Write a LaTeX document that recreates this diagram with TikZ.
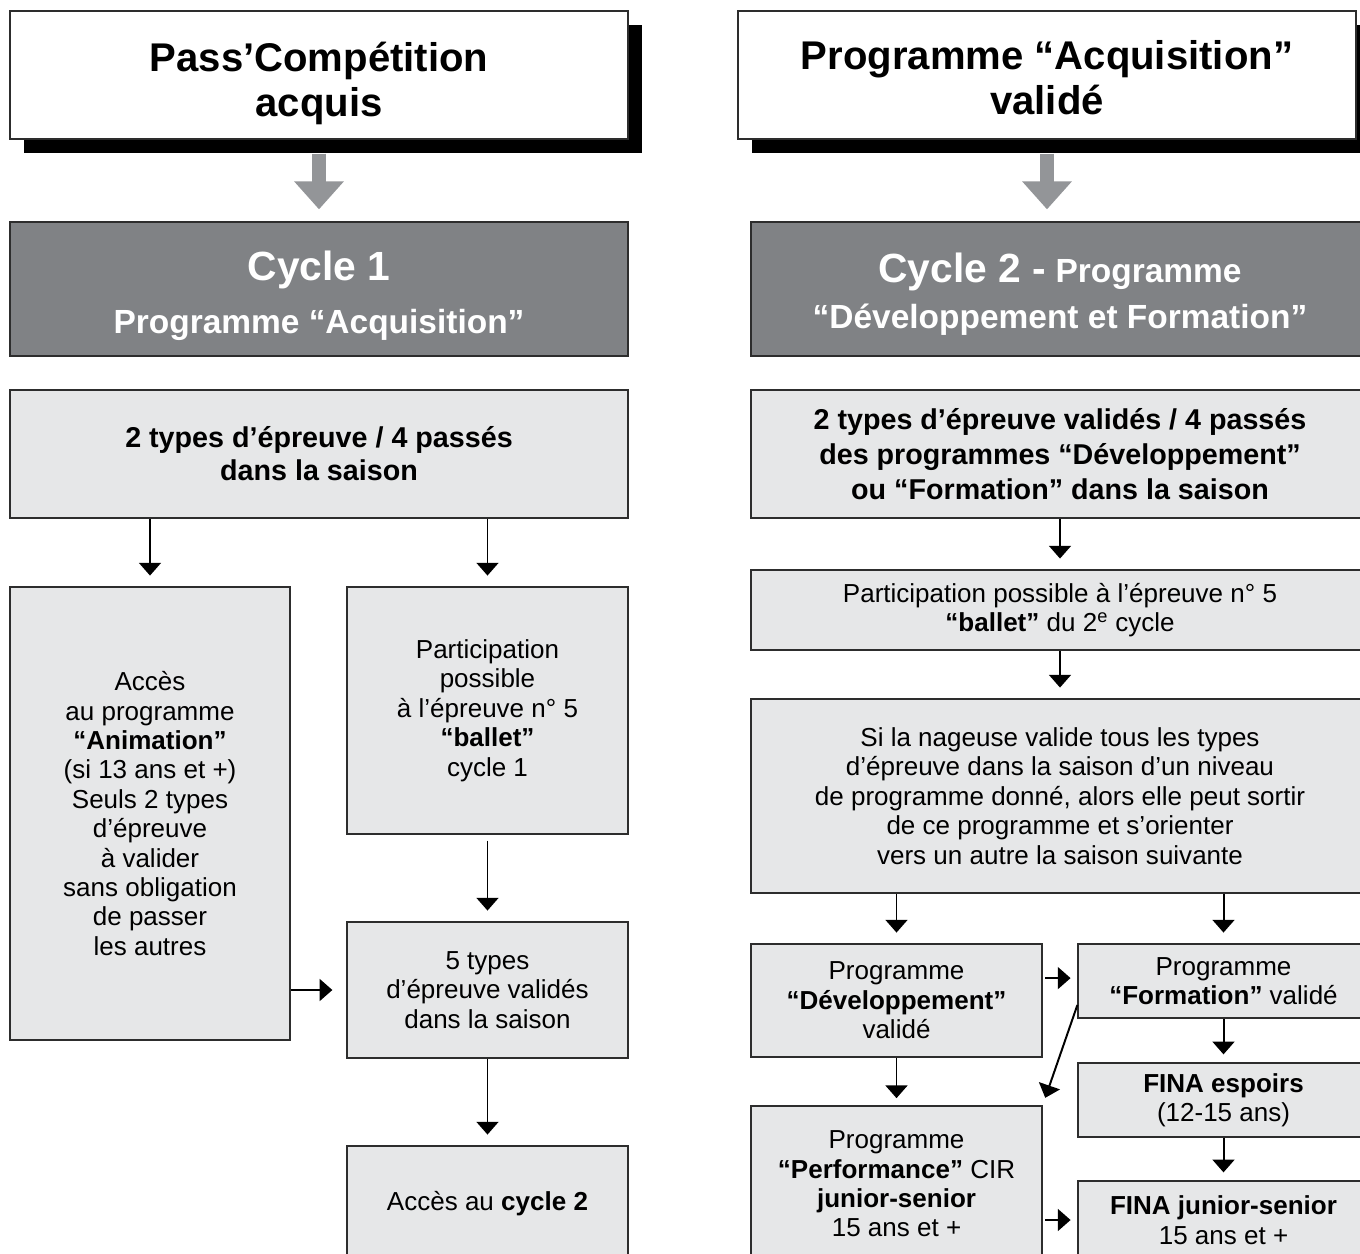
\documentclass[tikz,border=0pt]{standalone}
\usepackage{fontspec}
\setmainfont{Liberation Sans}
\usetikzlibrary{arrows.meta,shadows}
\definecolor{cyclegray}{RGB}{128,130,133}
\definecolor{boxgray}{RGB}{230,231,232}
\definecolor{flowgray}{RGB}{147,149,152}
\definecolor{edgegray}{RGB}{45,45,45}

\begin{document}
\begin{tikzpicture}[x=0.025cm, y=-0.025cm,
    wh/.style 2 args={minimum width=#1*0.025cm, minimum height=#2*0.025cm},
    title box/.style={draw=edgegray, line width=0.9pt, fill=white, inner sep=0pt, align=center,
        font=\bfseries\fontsize{28.5pt}{32pt}\selectfont,
        drop shadow={shadow xshift=0.34cm, shadow yshift=-0.35cm, fill=black, opacity=1}},
    cycle box/.style={draw=edgegray, line width=0.9pt, fill=cyclegray, text=white, inner sep=0pt, align=center},
    step box/.style={draw=edgegray, line width=0.9pt, fill=boxgray, inner sep=0pt, align=center,
        font=\fontsize{18.5pt}{20.9pt}\selectfont},
    head box/.style={step box, font=\bfseries\fontsize{20.4pt}{23.5pt}\selectfont},
    arr/.style={-{Triangle[width=0.55cm,length=0.32cm]}, line width=1.4pt, draw=black, shorten >=0.27cm},
    flow arr/.style={-{Triangle[width=1.2cm,length=0.7cm]}, line width=0.33cm, draw=flowgray,
        shorten <=0.35cm, shorten >=0.3cm}]

    \clip (0,0) rectangle (1360,1254);
    \fill[white] (0,0) rectangle (1360,1254);

    % cycle 1
    \node[title box, wh={618}{128}] at (319,75) (t1) {\rule{0pt}{32.5pt}Pass’Compétition\\acquis};
    \node[cycle box, wh={618}{134}, font=\bfseries\fontsize{23.8pt}{37.7pt}\selectfont] at (319,289) (c1)
        {{\fontsize{29pt}{34pt}\selectfont\rule{0pt}{30pt}Cycle 1}\\Programme “Acquisition”};
    \node[head box, wh={618}{128}] at (319,454) (b1) {2 types d’épreuve / 4 passés\\dans la saison};
    \node[step box, wh={280}{453}] at (150,813.5) (a1) {Accès\\au programme\\\textbf{“Animation”}\\(si 13 ans et +)\\Seuls 2 types\\d’épreuve\\à valider\\sans obligation\\de passer\\les autres};
    \node[step box, wh={281}{247}] at (487.5,710.5) (p1) {Participation\\possible\\à l’épreuve n° 5\\\textbf{“ballet”}\\cycle 1};
    \node[step box, wh={281}{136}] at (487.5,990) (f1) {5 types\\d’épreuve validés\\dans la saison};
    \node[step box, wh={281}{116}] at (487.5,1204) (k1) {Accès au \textbf{cycle 2}};

    % cycle 2
    \node[title box, wh={618}{128}] at (1047,75) (t2) {\rule{0pt}{24pt}Programme “Acquisition”\\validé};
    \node[cycle box, wh={618}{134}, font=\bfseries\fontsize{23.8pt}{32.7pt}\selectfont] at (1060,289) (c2)
        {{\fontsize{29pt}{34pt}\selectfont\rule{0pt}{29pt}Cycle 2 -} Programme\\“Développement et Formation”};
    \node[head box, wh={618}{128}, font=\bfseries\fontsize{20.4pt}{24.9pt}\selectfont] at (1060,454) (b2)
        {2 types d’épreuve validés / 4 passés\\des programmes “Développement”\\ou “Formation” dans la saison};
    \node[step box, wh={618}{80}] at (1060,610) (q2) {Participation possible à l’épreuve n° 5\\\textbf{“ballet”} du 2\textsuperscript{e} cycle};
    \node[step box, wh={618}{194}] at (1060,796) (s2) {Si la nageuse valide tous les types\\d’épreuve dans la saison d’un niveau\\de programme donné, alors elle peut sortir\\de ce programme et s’orienter\\vers un autre la saison suivante};
    \node[step box, wh={291}{113}] at (896.5,1000.5) (d2) {Programme\\\textbf{“Développement”}\\validé};
    \node[step box, wh={291}{74}] at (1223.5,981) (g2) {Programme\\\textbf{“Formation”} validé};
    \node[step box, wh={291}{74}] at (1223.5,1100) (e2) {\textbf{FINA espoirs}\\(12-15 ans)};
    \node[step box, wh={291}{78}] at (1223.5,1220) (j2) {\textbf{FINA junior-senior}\\15 ans et +};
    \node[step box, wh={291}{156}] at (896.5,1184) (r2) {Programme\\\textbf{“Performance”} CIR\\\textbf{junior-senior}\\15 ans et +};

    \coordinate (dg) at ([yshift=0.56cm]d2.east);
    \coordinate (gr) at ([yshift=-0.6cm]g2.west);

    % gray arrows
    \draw[flow arr] (t1.south) -- (c1.north);
    \draw[flow arr] (t2.south) -- (t2.south |- c2.north);

    % left arrows
    \draw[arr] (a1.north |- b1.south) -- (a1.north);
    \draw[arr] (p1.north |- b1.south) -- (p1.north);
    \draw[arr, shorten <=0.15cm] (p1.south) -- (f1.north);
    \draw[arr, shorten >=0.35cm] (a1.east |- f1.west) -- (f1.west);
    \draw[arr] (f1.south) -- (k1.north);

    % right arrows
    \draw[arr] (q2.north |- b2.south) -- (q2.north);
    \draw[arr] (s2.north |- q2.south) -- (s2.north);
    \draw[arr] (d2.north |- s2.south) -- (d2.north);
    \draw[arr] (g2.north |- s2.south) -- (g2.north);
    \draw[arr, shorten <=0.07cm, shorten >=0.17cm] (dg) -- (dg -| g2.west);
    \draw[arr, shorten >=0.2cm] (e2.north |- g2.south) -- (e2.north);
    \draw[arr, shorten >=0.2cm] (j2.north |- e2.south) -- (j2.north);
    \draw[arr, shorten >=0.18cm] (d2.south) -- (r2.north);
    \draw[arr, shorten >=0.2cm] (gr) -- (r2.north east);
    \draw[arr, shorten <=0.07cm, shorten >=0.17cm] (r2.east |- j2.west) -- (j2.west);
\end{tikzpicture}
\end{document}
